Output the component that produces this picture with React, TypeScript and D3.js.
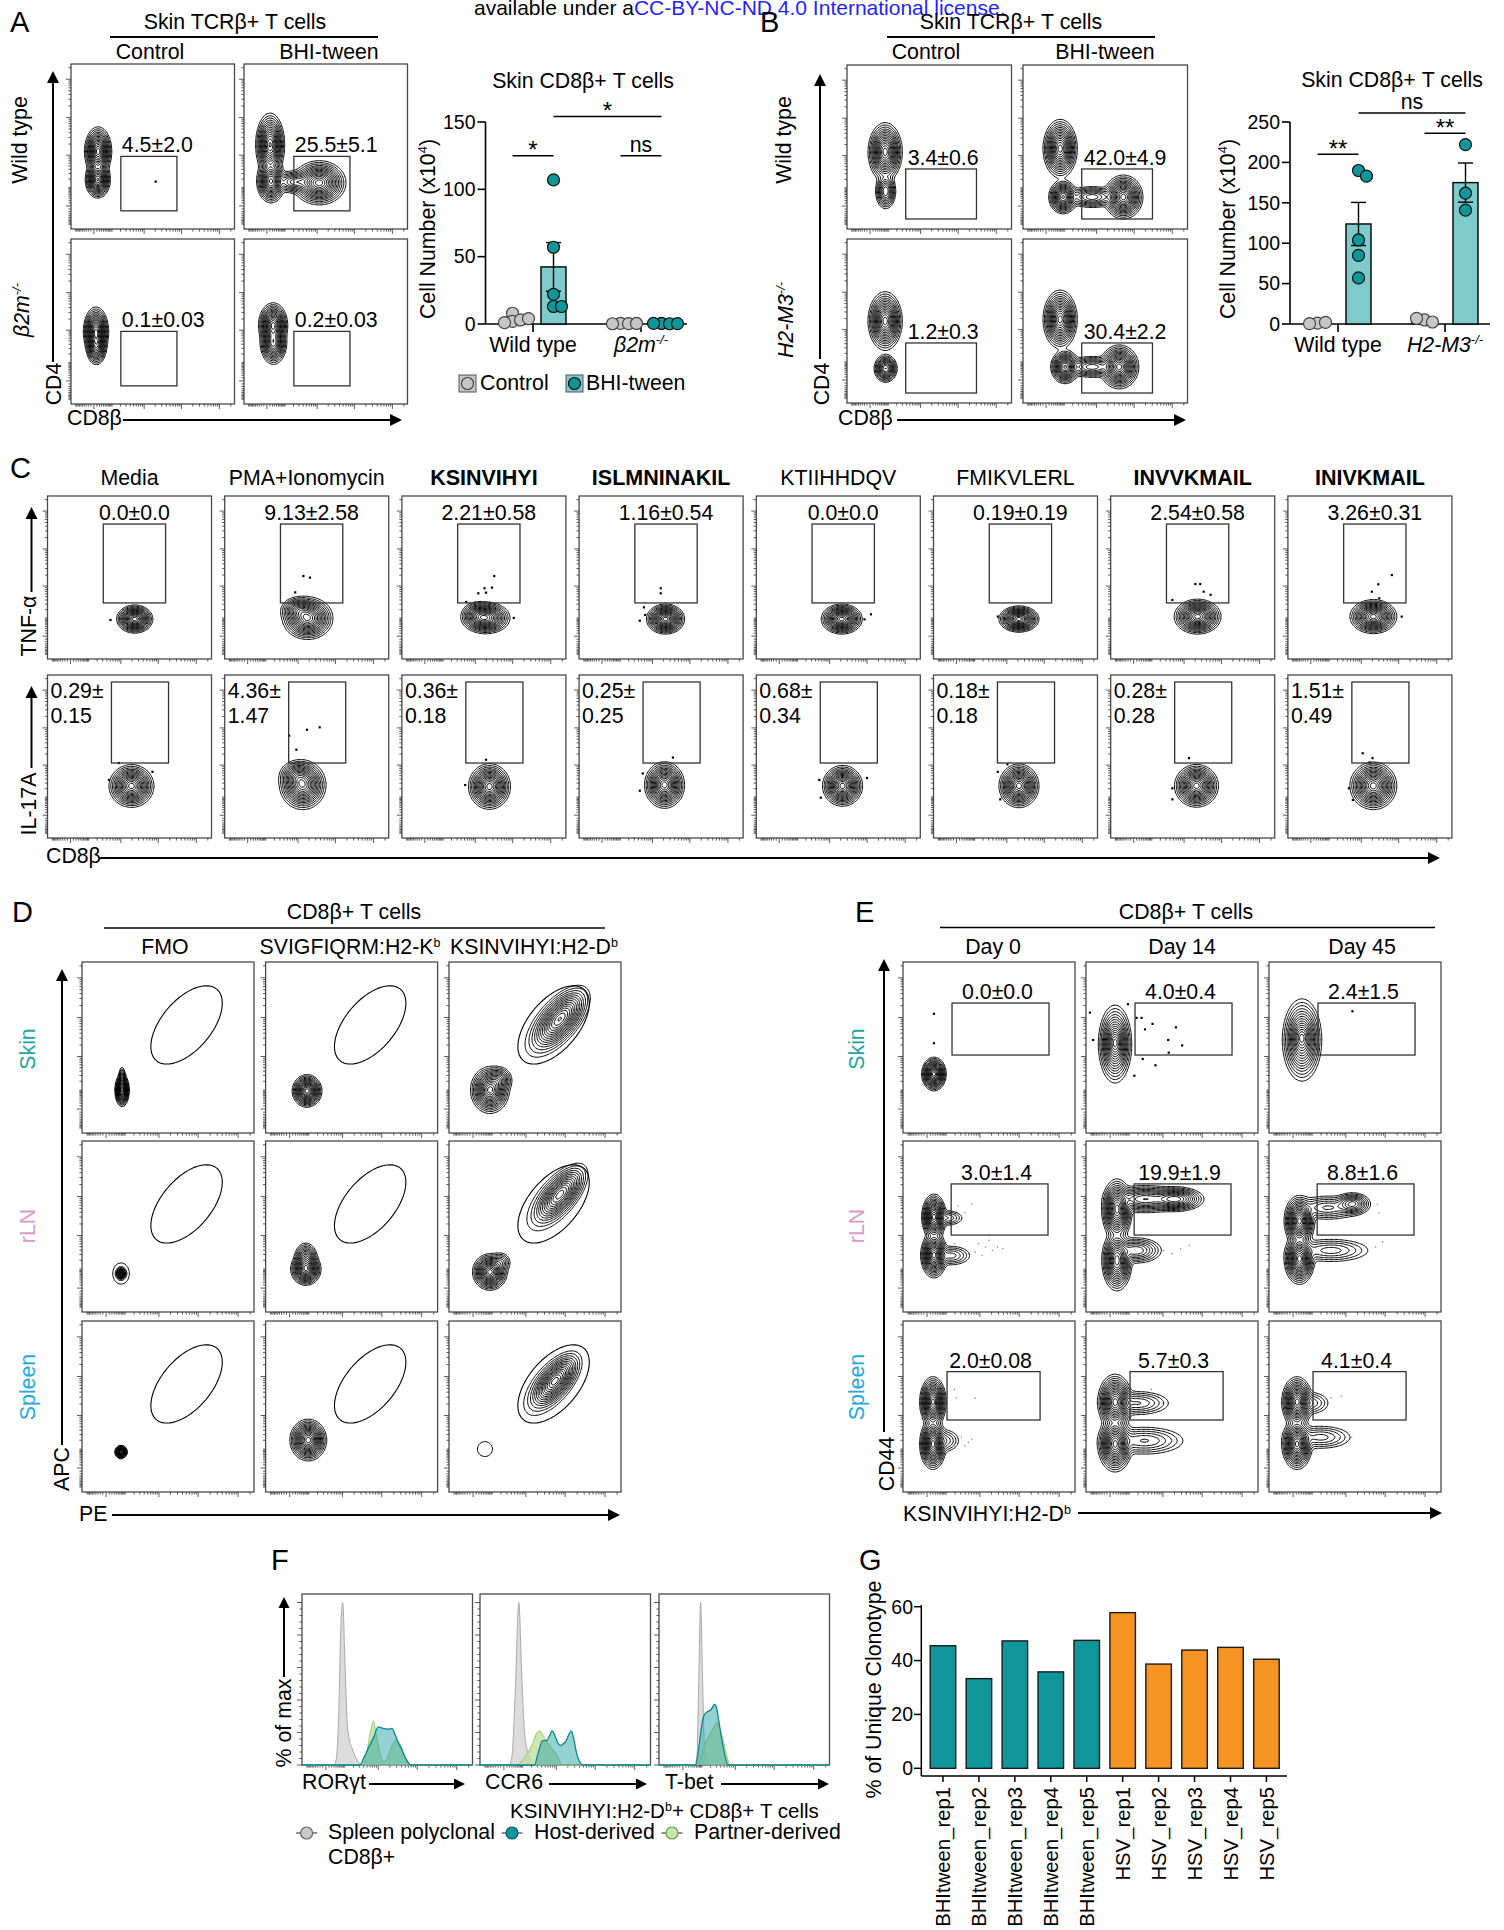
import React from "react";
import * as d3 from "d3";

const FONT = "'Liberation Sans', Arial, Helvetica, sans-serif";
const FS = 21.3;

// ================= DATA =================
const LICENSE_PREFIX = "available under a";
const LICENSE_LINK = "CC-BY-NC-ND 4.0 International license.";

// population components: [x, y, spreadA, spreadB, weight, angleDeg] in axis units 0..100
// ---- Panel A
const A_COLS = ["Control", "BHI-tween"];
const A_GATE_LABELS = [["4.5±2.0", "25.5±5.1"], ["0.1±0.03", "0.2±0.03"]];
const A_GATE = [30.5, 64.8, 11, 44];
const A_POPS = [
  [
    [[16.6, 47, 2.8, 5, 1, 0], [16.4, 30, 2.6, 3.8, 0.95, 0]],
    [[16, 51, 3, 6.5, 1, 0], [16.5, 29, 3, 4.5, 0.9, 0], [31, 28.5, 5, 2.6, 0.3, 0], [46, 28, 5.5, 4.5, 1.05, 0]],
  ],
  [
    [[15.3, 44, 2.6, 5, 1, 0], [15.5, 35, 2.2, 4, 0.6, 0]],
    [[17.8, 48, 3, 4.5, 1, 0], [18, 37, 2.8, 4.5, 0.8, 0]],
  ],
];
const A_DOTS = [[[[51.8, 28.7]], []], [[], []]];
const A_GROUPS = ["Wild type", "β2m"];
const A_CTRL = [[8, 2, 3, 1, 4], [0.5, 0.3, 0.2, 0.4]];
const A_BHI = [[107, 57, 22, 13, 13], [0.4, 0.2, 0.5, 0.3]];
const A_YTICKS = [0, 50, 100, 150];
const A_SIG = [
  { g1: 0, s1: 0, g2: 0, s2: 1, y: 125, label: "*" },
  { g1: 1, s1: 0, g2: 1, s2: 1, y: 125, label: "ns" },
  { g1: 0, s1: 1, g2: 1, s2: 1, y: 154, label: "*" },
];

// ---- Panel B
const B_GATE_LABELS = [["3.4±0.6", "42.0±4.9"], ["1.2±0.3", "30.4±2.2"]];
const B_GATE = [35.7, 78.7, 6.1, 36.6];
const B_POPS = [
  [
    [[23.2, 47, 3.5, 6, 1, 0], [23.5, 23, 2.3, 4, 0.4, 0]],
    [[22.6, 49, 3.5, 6, 1, 0], [24.4, 19.5, 3, 3.5, 0.85, 0], [42, 19.5, 6, 2.5, 0.3, 0], [61, 19.5, 4, 4.5, 1, 0]],
  ],
  [
    [[23.2, 50, 3.5, 6, 1, 0], [23.5, 21, 2.5, 3, 0.6, 0]],
    [[22.6, 51, 3.5, 6, 1, 0], [25.6, 22, 3, 3.5, 0.85, 0], [42, 22, 6, 2.5, 0.3, 0], [58.5, 22, 4, 4.5, 1, 0]],
  ],
];
const B_GROUPS = ["Wild type", "H2-M3"];
const B_CTRL = [[1, 2, 0.5], [5, 2.5, 7]];
const B_BHI = [[190, 183, 104, 85, 57], [222, 162, 141]];
const B_YTICKS = [0, 50, 100, 150, 200, 250];
const B_SIG = [
  { g1: 0, s1: 0, g2: 0, s2: 1, y: 210, label: "**" },
  { g1: 1, s1: 0, g2: 1, s2: 1, y: 236, label: "**" },
  { g1: 0, s1: 1, g2: 1, s2: 1, y: 261, label: "ns" },
];

// ---- Panel C
const C_TITLES = ["Media", "PMA+Ionomycin", "KSINVIHYI", "ISLMNINAKIL", "KTIIHHDQV", "FMIKVLERL", "INVVKMAIL", "INIVKMAIL"];
const C_BOLD = [false, false, true, true, false, false, true, true];
const C_TNF = ["0.0±0.0", "9.13±2.58", "2.21±0.58", "1.16±0.54", "0.0±0.0", "0.19±0.19", "2.54±0.58", "3.26±0.31"];
const C_IL17 = [["0.29±", "0.15"], ["4.36±", "1.47"], ["0.36±", "0.18"], ["0.25±", "0.25"], ["0.68±", "0.34"], ["0.18±", "0.18"], ["0.28±", "0.28"], ["1.51±", "0.49"]];
const C_TNF_GATE = [34, 72, 34.4, 82.8];
const C_IL17_GATE = [39, 73.8, 46, 95.7];
const C_TNF_POPS = [
  [[53.2, 24.5, 3.7, 2.9, 1, 0]],
  [[50.6, 25, 5.2, 4.4, 1, 0], [45, 30, 4, 3, 0.35, 0]],
  [[51.2, 25.2, 5, 3.3, 1, 0], [46, 27, 3.5, 3, 0.3, 0]],
  [[52.7, 24.5, 3.9, 3.1, 1, 0]],
  [[52.1, 24.5, 4.2, 3.1, 1, 0]],
  [[52.1, 24.5, 4.1, 2.7, 1, 0]],
  [[53, 26, 4.8, 3.6, 1, 0]],
  [[52.1, 26, 4.8, 3.5, 1, 0]],
];
const C_IL17_POPS = [
  [[51.2, 31.9, 4.6, 4.4, 1, 0]],
  [[47.6, 32.5, 4.8, 5.1, 1, 0], [44, 38, 4, 3.5, 0.3, 0]],
  [[53.4, 31.6, 4.3, 4.7, 1, 0]],
  [[52.1, 32.5, 4.1, 4.8, 1, 0]],
  [[52.6, 32, 4.1, 4.2, 1, 0]],
  [[52.1, 32, 4.1, 4.5, 1, 0]],
  [[52.3, 32, 4.5, 4.4, 1, 0]],
  [[52.1, 32, 4.8, 4.9, 1, 0]],
];
const C_TNF_DOTS = [
  [[38.4, 23.9]],
  [[48, 50.9], [52, 49.9], [43, 40.9]],
  [[56.3, 50.9], [50.4, 43.4], [54.9, 43.8], [46.6, 40.3], [51.3, 40.7], [39.2, 35], [68.2, 25.2]],
  [[49.8, 43.4], [49.8, 40.3], [39.5, 31.7], [37, 23.5], [40.3, 27]],
  [[69.9, 27.4], [66, 24.3]],
  [[39.2, 26]],
  [[51.6, 46], [54.6, 46], [56.7, 41.3], [60.9, 39.4], [37.6, 36.2]],
  [[63.4, 51.5], [55.1, 45.8], [51.2, 41.3], [55.7, 37.2], [69.4, 26]],
];
const C_IL17_DOTS = [
  [[43.5, 46], [37.5, 35.6], [64, 40.6]],
  [[50.2, 66.4], [57.9, 67.9], [39.3, 62.8], [43.7, 54.2]],
  [[51.3, 48], [38.6, 32.5]],
  [[57.2, 49.4], [38.8, 39.6], [37, 29]],
  [[38.4, 35.6], [39.3, 24.7], [67.5, 36.8]],
  [[39.2, 40.6], [45.1, 45.2], [40.7, 23.7]],
  [[47.7, 49], [37.6, 30.5], [37.6, 23.7]],
  [[45.6, 52], [51.6, 49], [49.8, 46.4], [37.2, 30.5], [39.6, 23.3]],
];

// ---- Panel D
const D_COLS = ["FMO", "SVIGFIQRM:H2-K", "KSINVIHYI:H2-D"];
const D_COL_SUP = ["", "b", "b"];
const ROW_LABELS = ["Skin", "rLN", "Spleen"];
const ROW_COLORS = ["#1ea3a5", "#d59ccd", "#23a8de"];
const D_GATE = [60.8, 63.2, 27.3, 14.5, 50];
const D_POPS = [
  [
    [[23.3, 25, 1.4, 3.2, 1, 0], [23.3, 31, 0.8, 3, 0.25, 0]],
    [[24.1, 24.6, 2.9, 3.2, 1, 0]],
    [[23.8, 25.1, 3.8, 4.6, 1, 0], [29, 31, 3, 3, 0.25, 0], [64.5, 66.7, 8, 3.8, 0.9, 50], [60, 62, 11, 5.5, 0.06, 50]],
  ],
  [
    [[22.7, 22.5, 1.0, 1.2, 1, 0], [22.7, 22.5, 3.5, 4.5, 0.03, 0]],
    [[23.4, 25, 3, 3.2, 1, 0], [23.4, 31, 2.5, 3.5, 0.45, 0]],
    [[23.8, 23.4, 3.4, 3.6, 1, 0], [30, 29, 2.5, 2.5, 0.12, 45], [64.5, 68.7, 7.5, 3.4, 0.85, 50], [60, 64, 11, 5.5, 0.05, 50]],
  ],
  [
    [[22.7, 23.4, 1.2, 1.3, 1, 0]],
    [[24.8, 30.4, 3.6, 4.1, 1, 0]],
    [[20.9, 25.1, 4.5, 4.5, 0.02, 0], [61.6, 64.9, 7, 3.3, 1, 50], [58, 61, 11, 5.5, 0.05, 50]],
  ],
];

// ---- Panel E
const E_COLS = ["Day 0", "Day 14", "Day 45"];
const E_GATES = [[28.5, 84.9, 45.6, 76], [28, 84.3, 45, 74.9], [25.6, 79.7, 42.1, 70.4]];
const E_GATE_LABELS = [["0.0±0.0", "4.0±0.4", "2.4±1.5"], ["3.0±1.4", "19.9±1.9", "8.8±1.6"], ["2.0±0.08", "5.7±0.3", "4.1±0.4"]];
const E_POPS = [
  [
    [[18, 34.5, 2.4, 3.3, 1, 0]],
    [[16.9, 52, 3.4, 8, 1, 0], [17, 53, 2.4, 4, 0.45, 0]],
    [[19.2, 54.4, 4, 8.4, 1, 0], [19, 56, 2.6, 4, 0.4, 0]],
  ],
  [
    [[18, 55.6, 2.4, 4.5, 1, 0], [18, 33.3, 2.6, 4.5, 1, 0], [28, 33, 5, 2.5, 0.12, 0], [26, 55, 4, 2, 0.1, 0]],
    [[18, 60, 3, 6, 1, 0], [18, 30, 3, 6, 0.9, 0], [34, 66, 8, 3, 0.4, 0], [52, 66, 6, 2.6, 0.55, 0], [29, 36, 6, 3, 0.25, 0]],
    [[17.7, 53.2, 3, 5, 1, 0], [17.7, 31, 3, 5, 1, 0], [34, 61, 8, 3, 0.15, 0], [48.5, 63.2, 4, 2.5, 0.35, 0], [36, 36, 10, 3, 0.12, 0]],
  ],
  [
    [[17.4, 52.6, 2.6, 5, 1, 0], [17.4, 28, 2.6, 5, 1, 0], [24, 30, 4, 3, 0.1, 0]],
    [[16.9, 52.6, 3.4, 5.5, 1, 0], [16.9, 28, 3.4, 5.5, 1, 0], [30, 52, 8, 3, 0.15, 0], [34, 30, 10, 3.5, 0.15, 0]],
    [[16.3, 52.6, 3, 5, 1, 0], [16.3, 28, 3, 5, 1, 0], [24, 52, 5, 3, 0.1, 0], [30, 32, 8, 3, 0.12, 0]],
  ],
];
const E_DOTS = [
  [
    [[18, 69.7], [18, 52.5]],
    [[29.4, 67.3], [32.3, 67.3], [38.7, 63.8], [34.3, 60.6], [52.3, 61.8], [47.8, 54.4], [55.9, 51.2], [4.2, 54.4], [33, 43.3], [40.4, 39.6], [28.1, 33.5], [48.1, 47], [24.4, 75.3], [2.3, 70.4]],
    [[48.5, 71.2]],
  ],
  [[], [], []],
  [[], [], []],
];
const E_DUST = [
  [[], [], []],
  [
    [[32, 62], [36, 58], [40, 63], [34, 56], [44, 40], [48, 38], [52, 36], [46, 33], [42, 35], [55, 38], [38, 34], [50, 42], [58, 37], [30, 40]],
    [[45, 36], [50, 34], [55, 37], [60, 39]],
    [[63, 63], [64, 58], [62, 38], [66, 41]],
  ],
  [
    [[30, 60], [31, 55], [42, 55], [34, 32], [38, 29], [40, 31], [36, 27]],
    [[38, 60], [42, 56], [44, 34], [50, 30], [48, 28], [52, 32]],
    [[36, 55], [42, 56], [45, 30], [48, 32], [40, 29]],
  ],
];

// ---- Panel F (histograms, % of max vs. fluorescence units)
const F_CHANNELS = ["RORγt", "CCR6", "T-bet"];
const F_GRAY = [
  [[18.5, 0], [20, 3], [21.5, 30], [22.8, 85], [23.9, 100], [25, 70], [26.3, 30], [27.5, 17], [29.5, 10], [31.3, 5], [33.5, 1.5], [36, 0]],
  [[17, 0], [18.7, 5], [20.5, 40], [22.8, 100], [24.3, 60], [25.8, 25], [27.5, 10], [29.5, 4], [32, 0]],
  [[21, 0], [22.2, 5], [23.3, 50], [24.4, 100], [25.5, 55], [26.5, 15], [27.5, 5], [29, 1], [30, 0]],
];
const F_PARTNER = [
  [[36, 0], [38, 8], [40.5, 22], [41.9, 27], [43.3, 20], [45.5, 8], [48, 2], [50, 4], [52.5, 11], [55, 15], [57.5, 11], [60, 5], [62.8, 0]],
  [[22, 0], [25, 3], [27.8, 7], [30.5, 12], [33, 19], [34.9, 21], [37, 18], [39, 15], [41.5, 11], [44.5, 7], [46.5, 3], [48, 0]],
  [[22.7, 0], [24.5, 5], [26.9, 13], [29.5, 18], [32, 23], [33.9, 26.6], [35.5, 23], [37.2, 17], [39.5, 7], [41.5, 0]],
];
const F_HOST = [
  [[34, 0], [36.5, 5], [39.2, 11], [42, 17], [44.7, 23.5], [47.5, 22.5], [50.5, 22], [52.7, 22.5], [54.5, 19], [56, 15], [58, 11], [59.6, 7], [62, 2], [64, 0]],
  [[32, 0], [34, 7], [36.7, 15], [39, 15], [40.8, 18], [42.3, 21], [44, 18], [45.5, 14], [47.2, 12], [48.7, 13], [50, 14], [52, 18.5], [53.5, 21], [55, 16], [56.7, 7], [58.5, 2], [60, 0]],
  [[21.5, 0], [23, 8], [24.5, 20], [26, 29.6], [28.2, 32.7], [30.5, 34], [32.7, 37.4], [34, 34], [35, 27.6], [36.8, 16], [38.4, 7], [40.6, 0]],
];
const F_LEGEND = ["Spleen polyclonal", "Host-derived", "Partner-derived"];

// ---- Panel G
const G_CATS = ["BHItween_rep1", "BHItween_rep2", "BHItween_rep3", "BHItween_rep4", "BHItween_rep5", "HSV_rep1", "HSV_rep2", "HSV_rep3", "HSV_rep4", "HSV_rep5"];
const G_VALUES = [45.5, 33.3, 47.3, 35.8, 47.5, 57.8, 38.7, 43.9, 44.9, 40.5];
const G_GROUP = ["BHItween", "BHItween", "BHItween", "BHItween", "BHItween", "HSV", "HSV", "HSV", "HSV", "HSV"];
const G_YTICKS = [0, 20, 40, 60];

// ================= HELPERS =================
const LEVELS = [0.012, 0.024, 0.042, 0.068, 0.1, 0.14, 0.19, 0.25, 0.32, 0.4, 0.49, 0.59, 0.7, 0.82, 0.93];
const TEAL = "#0f969b";
const TEAL_LIGHT = "#7fcaca";
const GRAY_PT = "#c6c6c6";

const biex = d3.scaleSymlog().constant(50).domain([-150, 250000]).range([0, 1]);
const BIEX_TICKS = (() => {
  const t: { v: number; major: boolean }[] = [{ v: 0, major: true }];
  for (let k = 1; k <= 5; k++) {
    for (let m = 1; m <= 9; m++) {
      const v = m * Math.pow(10, k);
      if (v <= 250000) t.push({ v, major: m === 1 && k >= 3 });
      if (-v >= -150) t.push({ v: -v, major: false });
    }
  }
  return t;
})();

function densityContours(comps: number[][], w: number, h: number) {
  const cell = 1.25;
  const nx = Math.ceil(w / cell), ny = Math.ceil(h / cell);
  const vals = new Array(nx * ny);
  const pre = comps.map(([cx, cy, sa, sb, wt, ang]) => {
    const t = ((ang || 0) * Math.PI) / 180;
    return [cx, cy, 1 / (sa * sa), 1 / (sb * sb), wt, Math.cos(t), Math.sin(t)];
  });
  let mx = 0;
  for (let j = 0; j < ny; j++) {
    const dy = 100 - (((j + 0.5) * cell) / h) * 100;
    for (let i = 0; i < nx; i++) {
      const dx = (((i + 0.5) * cell) / w) * 100;
      let s = 0;
      for (const [cx, cy, ia, ib, wt, c, sn] of pre) {
        const ux = dx - cx, uy = dy - cy;
        const u = ux * c + uy * sn;
        const v = -ux * sn + uy * c;
        s += wt * Math.exp(-0.5 * (u * u * ia + v * v * ib));
      }
      vals[j * nx + i] = s;
      if (s > mx) mx = s;
    }
  }
  const cs = d3.contours().size([nx, ny]).thresholds(LEVELS.map((l) => l * mx))(vals);
  const path = d3.geoPath(d3.geoIdentity().scale(cell) as any);
  return cs.map((c) => path(c as any) || "");
}

function ellipsePath(g: number[], sx: any, sy: any) {
  const [cx, cy, a, b, ang] = g;
  const t = (ang * Math.PI) / 180;
  const pts = d3.range(0, 361, 5).map((d) => {
    const r = (d * Math.PI) / 180;
    const u = a * Math.cos(r), v = b * Math.sin(r);
    return [sx(cx + u * Math.cos(t) - v * Math.sin(t)), sy(cy + u * Math.sin(t) + v * Math.cos(t))] as [number, number];
  });
  return (d3.line()(pts) || "") + "Z";
}

function FlowTicks({ x, y, w, h, left = true }: any) {
  const segs: string[] = [];
  for (const t of BIEX_TICKS) {
    const f = biex(t.v);
    const len = t.major ? 5 : 2.6;
    segs.push(`M${x + f * w},${y + h}v${len}`);
    if (left) segs.push(`M${x},${y + h - f * h}h${-len}`);
  }
  return <path d={segs.join("")} stroke="#333" strokeWidth={0.8} fill="none" />;
}

function FlowBox({ x, y, w, h, comps, dots = [], dust = [], rect, ellipse }: any) {
  const sx = d3.scaleLinear([0, 100], [x, x + w]);
  const sy = d3.scaleLinear([0, 100], [y + h, y]);
  const paths = densityContours(comps, w, h);
  return (
    <g>
      <rect x={x} y={y} width={w} height={h} fill="#fff" stroke="#4a4a4a" strokeWidth={1.3} />
      <FlowTicks x={x} y={y} w={w} h={h} />
      <g transform={`translate(${x},${y})`}>
        {paths.map((d, i) => (
          <path key={i} d={d} fill="none" stroke="#000" strokeWidth={1} />
        ))}
      </g>
      {dust.map((p: number[], i: number) => (
        <circle key={"u" + i} cx={sx(p[0])} cy={sy(p[1])} r={0.8} fill="#8a8a8a" />
      ))}
      {dots.map((p: number[], i: number) => (
        <rect key={"d" + i} x={sx(p[0]) - 1.1} y={sy(p[1]) - 1.1} width={2.2} height={2.2} fill="#000" />
      ))}
      {rect && (
        <rect x={sx(rect[0])} y={sy(rect[3])} width={sx(rect[1]) - sx(rect[0])} height={sy(rect[2]) - sy(rect[3])} fill="none" stroke="#333" strokeWidth={1.3} />
      )}
      {ellipse && <path d={ellipsePath(ellipse, sx, sy)} fill="none" stroke="#000" strokeWidth={1.1} />}
    </g>
  );
}

function Arrow({ x1, y1, x2, y2, head = 12, hw = 6, sw = 2 }: any) {
  const a = Math.atan2(y2 - y1, x2 - x1);
  const bx = x2 - head * Math.cos(a), by = y2 - head * Math.sin(a);
  const px = -Math.sin(a) * hw, py = Math.cos(a) * hw;
  return (
    <g>
      <line x1={x1} y1={y1} x2={bx + Math.cos(a)} y2={by + Math.sin(a)} stroke="#000" strokeWidth={sw} />
      <path d={`M${x2},${y2}L${bx + px},${by + py}L${bx - px},${by - py}Z`} fill="#000" />
    </g>
  );
}

function RText({ x, y, size = FS, children, ...rest }: any) {
  return (
    <text transform={`translate(${x},${y}) rotate(-90)`} textAnchor="middle" dy="0.35em" fontSize={size} {...rest}>
      {children}
    </text>
  );
}

function Sup({ children, size = 13, up = 8 }: any) {
  return (
    <tspan fontSize={size} dy={-up}>
      {children}
    </tspan>
  );
}

function swarmOffsets(vals: number[], y: (v: number) => number, minDist = 8, step = 4) {
  const placed: [number, number][] = [];
  return vals.map((v) => {
    const py = y(v);
    for (let k = 0; k < 60; k++) {
      const off = k === 0 ? 0 : (k % 2 === 1 ? 1 : -1) * Math.ceil(k / 2) * step;
      if (placed.every(([qx, qy]) => Math.hypot(qx - off, qy - py) >= minDist)) {
        placed.push([off, py]);
        return off;
      }
    }
    return 0;
  });
}

function BarDot({ axX, axEnd, yTop, yBot, yMax, ticks, centers, groupLabels, ctrl, bhi, sig, labelY }: any) {
  const y = d3.scaleLinear([0, yMax], [yBot, yTop]);
  const gx = d3.scalePoint(d3.range(centers.length), centers);
  const sOff = d3.scalePoint([0, 1], [-20.5, 20.5]);
  const cx = (g: number, s: number) => (gx(g) as number) + (sOff(s) as number);
  const series = [ctrl, bhi];
  return (
    <g>
      <line x1={axX} x2={axX} y1={yTop} y2={yBot} stroke="#000" strokeWidth={1.6} />
      <line x1={axX} x2={axEnd} y1={yBot} y2={yBot} stroke="#000" strokeWidth={1.6} />
      {ticks.map((t: number) => (
        <g key={t}>
          <line x1={axX - 8} x2={axX} y1={y(t)} y2={y(t)} stroke="#000" strokeWidth={1.6} />
          <text x={axX - 10} y={y(t)} dy="0.35em" textAnchor="end" fontSize={19.5}>
            {t}
          </text>
        </g>
      ))}
      {centers.map((c: number, i: number) => (
        <g key={i}>
          <line x1={c} x2={c} y1={yBot} y2={yBot + 8} stroke="#000" strokeWidth={1.6} />
          <text x={c} y={labelY} textAnchor="middle" fontSize={FS} fontStyle={i === 0 ? "normal" : "italic"}>
            {groupLabels[i]}
            {i > 0 && <Sup>-/-</Sup>}
          </text>
        </g>
      ))}
      {series.map((ser: number[][], s: number) =>
        ser.map((vals: number[], g: number) => {
          const m = d3.mean(vals) as number;
          const sem = (d3.deviation(vals) || 0) / Math.sqrt(vals.length);
          const x = cx(g, s);
          return (
            <g key={`b${s}${g}`}>
              <rect x={x - 12.5} y={y(m)} width={25} height={yBot - y(m)} fill={s === 0 ? "#c4c4c4" : TEAL_LIGHT} stroke="#000" strokeWidth={1.4} />
              <line x1={x} x2={x} y1={y(m + sem)} y2={y(Math.max(0, m - sem))} stroke="#000" strokeWidth={1.4} />
              <line x1={x - 7.5} x2={x + 7.5} y1={y(m + sem)} y2={y(m + sem)} stroke="#000" strokeWidth={1.4} />
              <line x1={x - 7.5} x2={x + 7.5} y1={y(Math.max(0, m - sem))} y2={y(Math.max(0, m - sem))} stroke="#000" strokeWidth={1.4} />
            </g>
          );
        })
      )}
      {series.map((ser: number[][], s: number) =>
        ser.map((vals: number[], g: number) => {
          const offs = swarmOffsets(vals, y);
          return vals.map((v, i) => (
            <circle key={`p${s}${g}${i}`} cx={cx(g, s) + offs[i]} cy={y(v)} r={6} fill={s === 0 ? GRAY_PT : TEAL} stroke={s === 0 ? "#444" : "#111"} strokeWidth={1.2} />
          ));
        })
      )}
      {sig.map((sg: any, i: number) => {
        const x1 = cx(sg.g1, sg.s1), x2 = cx(sg.g2, sg.s2), yy = y(sg.y);
        const star = sg.label !== "ns";
        return (
          <g key={"s" + i}>
            <line x1={x1} x2={x2} y1={yy} y2={yy} stroke="#000" strokeWidth={1.5} />
            <text x={(x1 + x2) / 2} y={star ? yy + 2.5 : yy - 4} textAnchor="middle" fontSize={star ? 24 : FS}>
              {sg.label}
            </text>
          </g>
        );
      })}
    </g>
  );
}

// ================= PANELS =================
function PanelA() {
  const cols = [71, 244], rows = [64, 239], w = 163.5, h = 165;
  return (
    <g>
      <text x={10} y={32} fontSize={29}>A</text>
      <text x={235} y={29} fontSize={FS} textAnchor="middle">Skin TCRβ+ T cells</text>
      <line x1={110} x2={378} y1={37} y2={37} stroke="#000" strokeWidth={2} />
      <text x={150} y={59} fontSize={FS} textAnchor="middle">{A_COLS[0]}</text>
      <text x={329} y={59} fontSize={FS} textAnchor="middle">{A_COLS[1]}</text>
      <RText x={20} y={140}>Wild type</RText>
      <RText x={22} y={310} fontStyle="italic">β2m<Sup>-/-</Sup></RText>
      <RText x={54} y={384}>CD4</RText>
      <Arrow x1={53} y1={362} x2={53} y2={71} />
      <text x={67} y={425} fontSize={FS}>CD8β</text>
      <Arrow x1={123} y1={420} x2={402} y2={420} />
      {rows.map((ry, r) =>
        cols.map((cxp, c) => {
          const sx = d3.scaleLinear([0, 100], [cxp, cxp + w]);
          const sy = d3.scaleLinear([0, 100], [ry + h, ry]);
          return (
            <g key={`${r}${c}`}>
              <FlowBox x={cxp} y={ry} w={w} h={h} comps={A_POPS[r][c]} dots={A_DOTS[r][c]} rect={A_GATE} />
              <text x={sx(A_GATE[0]) + 1} y={sy(A_GATE[3]) - 4} fontSize={FS}>{A_GATE_LABELS[r][c]}</text>
            </g>
          );
        })
      )}
      <text x={583} y={88} fontSize={FS} textAnchor="middle">Skin CD8β+ T cells</text>
      <RText x={428} y={229}>Cell Number (x10<Sup>4</Sup><tspan dy={8}>)</tspan></RText>
      <BarDot axX={485.5} axEnd={687} yTop={122} yBot={324} yMax={150} ticks={A_YTICKS} centers={[533, 641]} groupLabels={A_GROUPS} ctrl={A_CTRL} bhi={A_BHI} sig={A_SIG} labelY={352} />
      <rect x={459} y={375} width={17} height={17} fill="#c4c4c4" stroke="#555" strokeWidth={1} />
      <circle cx={467.5} cy={383.5} r={6} fill={GRAY_PT} stroke="#444" strokeWidth={1.2} />
      <text x={480} y={390} fontSize={FS}>Control</text>
      <rect x={566} y={375} width={17} height={17} fill={TEAL_LIGHT} stroke="#555" strokeWidth={1} />
      <circle cx={574.5} cy={383.5} r={6} fill={TEAL} stroke="#111" strokeWidth={1.2} />
      <text x={586} y={390} fontSize={FS}>BHI-tween</text>
    </g>
  );
}

function PanelB() {
  const cols = [847, 1023], rows = [65, 239], w = 164.5, h = 164;
  return (
    <g>
      <text x={760} y={32} fontSize={29}>B</text>
      <text x={1011} y={29} fontSize={FS} textAnchor="middle">Skin TCRβ+ T cells</text>
      <line x1={887} x2={1155} y1={37} y2={37} stroke="#000" strokeWidth={2} />
      <text x={926} y={59} fontSize={FS} textAnchor="middle">{A_COLS[0]}</text>
      <text x={1105} y={59} fontSize={FS} textAnchor="middle">{A_COLS[1]}</text>
      <RText x={784} y={140}>Wild type</RText>
      <RText x={786} y={320} fontStyle="italic">H2-M3<Sup>-/-</Sup></RText>
      <RText x={822} y={384}>CD4</RText>
      <Arrow x1={820} y1={359} x2={820} y2={74} />
      <text x={838} y={425} fontSize={FS}>CD8β</text>
      <Arrow x1={897} y1={420} x2={1186} y2={420} />
      {rows.map((ry, r) =>
        cols.map((cxp, c) => {
          const sx = d3.scaleLinear([0, 100], [cxp, cxp + w]);
          const sy = d3.scaleLinear([0, 100], [ry + h, ry]);
          return (
            <g key={`${r}${c}`}>
              <FlowBox x={cxp} y={ry} w={w} h={h} comps={B_POPS[r][c]} rect={B_GATE} />
              <text x={sx(B_GATE[0]) + 2} y={sy(B_GATE[3]) - 4} fontSize={FS}>{B_GATE_LABELS[r][c]}</text>
            </g>
          );
        })
      )}
      <text x={1392} y={87} fontSize={FS} textAnchor="middle">Skin CD8β+ T cells</text>
      <RText x={1228} y={229}>Cell Number (x10<Sup>4</Sup><tspan dy={8}>)</tspan></RText>
      <BarDot axX={1290} axEnd={1490} yTop={122} yBot={324} yMax={250} ticks={B_YTICKS} centers={[1338, 1445]} groupLabels={B_GROUPS} ctrl={B_CTRL} bhi={B_BHI} sig={B_SIG} labelY={352} />
    </g>
  );
}

function PanelC() {
  const left = (i: number) => 47.5 + i * 177.2;
  const w = 164, rows = [496, 675], h = 163;
  return (
    <g>
      <text x={10} y={478} fontSize={29}>C</text>
      {C_TITLES.map((t, i) => (
        <text key={t} x={left(i) + w / 2} y={485} fontSize={C_BOLD[i] ? 21.5 : FS} textAnchor="middle" fontWeight={C_BOLD[i] ? "bold" : "normal"}>
          {t}
        </text>
      ))}
      {C_TITLES.map((t, i) => {
        const x = left(i);
        const sxx = d3.scaleLinear([0, 100], [x, x + w]);
        const syT = d3.scaleLinear([0, 100], [rows[0] + h, rows[0]]);
        return (
          <g key={"c" + i}>
            <FlowBox x={x} y={rows[0]} w={w} h={h} comps={C_TNF_POPS[i]} dots={C_TNF_DOTS[i]} rect={C_TNF_GATE} />
            <text x={sxx((C_TNF_GATE[0] + C_TNF_GATE[1]) / 2)} y={syT(C_TNF_GATE[3]) - 4} fontSize={FS} textAnchor="middle">
              {C_TNF[i]}
            </text>
            <FlowBox x={x} y={rows[1]} w={w} h={h} comps={C_IL17_POPS[i]} dots={C_IL17_DOTS[i]} rect={C_IL17_GATE} />
            <text x={x + 3} y={698} fontSize={FS}>{C_IL17[i][0]}</text>
            <text x={x + 3} y={723} fontSize={FS}>{C_IL17[i][1]}</text>
          </g>
        );
      })}
      <RText x={29} y={626}>TNF-α</RText>
      <Arrow x1={31.5} y1={592} x2={31.5} y2={507} />
      <RText x={29} y={804}>IL-17A</RText>
      <Arrow x1={31.5} y1={768} x2={31.5} y2={686} />
      <text x={46} y={863} fontSize={FS}>CD8β</text>
      <Arrow x1={100} y1={858} x2={1440} y2={858} />
    </g>
  );
}

function PanelD() {
  const cols = [82, 265.6, 449], rows = [962, 1141, 1321], w = 172, h = 171;
  const colCenters = [165, 350, 534];
  const labelY = [1049, 1226, 1387];
  return (
    <g>
      <text x={12} y={922} fontSize={29}>D</text>
      <text x={354} y={919} fontSize={FS} textAnchor="middle">CD8β+ T cells</text>
      <line x1={104} x2={605} y1={928} y2={928} stroke="#000" strokeWidth={1.3} />
      {D_COLS.map((t, i) => (
        <text key={t} x={colCenters[i]} y={954} fontSize={FS} textAnchor="middle">
          {t}
          {D_COL_SUP[i] && <Sup size={12.5} up={7}>{D_COL_SUP[i]}</Sup>}
        </text>
      ))}
      {ROW_LABELS.map((t, i) => (
        <RText key={t} x={27.5} y={labelY[i]} fill={ROW_COLORS[i]}>{t}</RText>
      ))}
      {rows.map((ry, r) =>
        cols.map((cxp, c) => <FlowBox key={`${r}${c}`} x={cxp} y={ry} w={w} h={h} comps={D_POPS[r][c]} ellipse={D_GATE} />)
      )}
      <RText x={61.5} y={1469}>APC</RText>
      <Arrow x1={62} y1={1445} x2={62} y2={969} />
      <text x={79} y={1521} fontSize={FS}>PE</text>
      <Arrow x1={112} y1={1515} x2={620} y2={1515} />
    </g>
  );
}

function PanelE() {
  const cols = [903, 1086, 1269], rows = [962, 1141, 1321], w = 172, h = 171;
  const colCenters = [993, 1182, 1362];
  const labelY = [1049, 1226, 1387];
  return (
    <g>
      <text x={855} y={922} fontSize={29}>E</text>
      <text x={1186} y={919} fontSize={FS} textAnchor="middle">CD8β+ T cells</text>
      <line x1={940} x2={1435} y1={927.5} y2={927.5} stroke="#000" strokeWidth={1.3} />
      {E_COLS.map((t, i) => (
        <text key={t} x={colCenters[i]} y={954} fontSize={FS} textAnchor="middle">{t}</text>
      ))}
      {ROW_LABELS.map((t, i) => (
        <RText key={t} x={857} y={labelY[i]} fill={ROW_COLORS[i]}>{t}</RText>
      ))}
      {rows.map((ry, r) =>
        cols.map((cxp, c) => {
          const g = E_GATES[r];
          const sx = d3.scaleLinear([0, 100], [cxp, cxp + w]);
          const sy = d3.scaleLinear([0, 100], [ry + h, ry]);
          return (
            <g key={`${r}${c}`}>
              <FlowBox x={cxp} y={ry} w={w} h={h} comps={E_POPS[r][c]} dots={E_DOTS[r][c]} dust={E_DUST[r][c]} rect={g} />
              <text x={sx((g[0] + g[1]) / 2) - 3} y={sy(g[3]) - 4} fontSize={FS} textAnchor="middle">{E_GATE_LABELS[r][c]}</text>
            </g>
          );
        })
      )}
      <RText x={886.5} y={1464}>CD44</RText>
      <Arrow x1={884} y1={1432} x2={884} y2={959} />
      <text x={903} y={1521} fontSize={FS}>
        KSINVIHYI:H2-D<Sup size={12.5} up={7}>b</Sup>
      </text>
      <Arrow x1={1078} y1={1513} x2={1442} y2={1513} />
    </g>
  );
}

function PanelF() {
  const lefts = [302, 480, 659], w = 170.5, top = 1594, h = 171;
  const sy = d3.scaleLinear([0, 100], [1765, 1602.5]);
  const labelX = [[302, 369, 465], [485, 549, 647], [665, 721, 829]];
  return (
    <g>
      <text x={271} y={1570} fontSize={29}>F</text>
      {lefts.map((x, i) => {
        const sx = d3.scaleLinear([0, 100], [x, x + w]);
        const area = d3
          .area<number[]>()
          .x((d) => sx(d[0]))
          .y0(sy(0))
          .y1((d) => sy(d[1]))
          .curve(d3.curveMonotoneX);
        const line = d3
          .line<number[]>()
          .x((d) => sx(d[0]))
          .y((d) => sy(d[1]))
          .curve(d3.curveMonotoneX);
        const wrap = (a: number[][]) => [[0, 0], ...a, [100, 0]];
        const lt: string[] = [];
        for (let p = 0; p <= 100; p += 4) lt.push(`M${x},${sy(p)}h${p % 20 === 0 ? -5 : -2.6}`);
        return (
          <g key={i}>
            <rect x={x} y={top} width={w} height={h} fill="#fff" stroke="#4a4a4a" strokeWidth={1.3} />
            <path d={lt.join("")} stroke="#333" strokeWidth={0.8} />
            <FlowTicks x={x} y={top} w={w} h={h} left={false} />
            <path d={area(wrap(F_GRAY[i])) || ""} fill="#d6d6d6" fillOpacity={0.85} />
            <path d={line(wrap(F_GRAY[i])) || ""} fill="none" stroke="#a9a9a9" strokeWidth={1} />
            <path d={area(wrap(F_PARTNER[i])) || ""} fill="#c2e0a0" fillOpacity={0.8} />
            <path d={line(wrap(F_PARTNER[i])) || ""} fill="none" stroke="#a3cf78" strokeWidth={1.1} />
            <path d={area(wrap(F_HOST[i])) || ""} fill="#2aa3a6" fillOpacity={0.5} />
            <path d={line(wrap(F_HOST[i])) || ""} fill="none" stroke="#0d878b" strokeWidth={1.3} />
            <text x={labelX[i][0]} y={1789} fontSize={FS}>{F_CHANNELS[i]}</text>
            <Arrow x1={labelX[i][1]} y1={1784} x2={labelX[i][2]} y2={1784} head={11} hw={5.5} />
          </g>
        );
      })}
      <RText x={283.5} y={1723}>% of max</RText>
      <Arrow x1={284} y1={1677} x2={284} y2={1597} head={11} hw={5.5} />
      <text x={510} y={1818} fontSize={20.5}>
        KSINVIHYI:H2-D<Sup size={12.5} up={7}>b</Sup>
        <tspan dy={7}>+ CD8β+ T cells</tspan>
      </text>
      {[
        [306.6, "#c8c8c8", "#666", 328],
        [512, TEAL, "#0a5a5c", 534],
        [672, "#c8e4a6", "#6f9a4e", 694],
      ].map(([cx, fill, stroke, tx]: any, i) => (
        <g key={i}>
          <line x1={cx - 10.5} x2={cx + 10.5} y1={1833} y2={1833} stroke="#555" strokeWidth={1.3} />
          <circle cx={cx} cy={1833} r={6} fill={fill} stroke={stroke} strokeWidth={1.2} />
          <text x={tx} y={1839} fontSize={FS}>{F_LEGEND[i]}</text>
        </g>
      ))}
      <text x={328} y={1864} fontSize={FS}>CD8β+</text>
    </g>
  );
}

function PanelG() {
  const x = d3.scaleBand(G_CATS, [925, 1284.4]).paddingInner(0.29).paddingOuter(0.145);
  const y = d3.scaleLinear([0, 60], [1768.3, 1606.7]);
  const color = d3.scaleOrdinal(["BHItween", "HSV"], [TEAL, "#f59423"]);
  return (
    <g>
      <text x={859} y={1570} fontSize={29}>G</text>
      <RText x={873.5} y={1689.5}>% of Unique Clonotype</RText>
      <line x1={921.3} x2={921.3} y1={1605} y2={1776} stroke="#000" strokeWidth={1.5} />
      <line x1={921.3} x2={1287} y1={1776} y2={1776} stroke="#000" strokeWidth={1.5} />
      {G_YTICKS.map((t) => (
        <g key={t}>
          <line x1={914} x2={921.3} y1={y(t)} y2={y(t)} stroke="#000" strokeWidth={1.5} />
          <text x={913} y={y(t)} dy="0.35em" textAnchor="end" fontSize={19.5}>{t}</text>
        </g>
      ))}
      {G_CATS.map((c, i) => {
        const bx = x(c) as number;
        const cx = bx + x.bandwidth() / 2;
        return (
          <g key={c}>
            <rect x={bx} y={y(G_VALUES[i])} width={x.bandwidth()} height={y(0) - y(G_VALUES[i])} fill={color(G_GROUP[i]) as string} stroke="#1a1a1a" strokeWidth={1.4} />
            <line x1={cx} x2={cx} y1={1776} y2={1782} stroke="#000" strokeWidth={1.5} />
            <text transform={`translate(${cx},1787) rotate(-90)`} textAnchor="end" dy="0.35em" fontSize={20.3}>
              {c}
            </text>
          </g>
        );
      })}
    </g>
  );
}

export default function App() {
  return (
    <svg width={1504} height={1930} viewBox="0 0 1504 1930" style={{ position: "absolute", left: 0, top: 0, background: "#fff" }} fontFamily={FONT}>
      <rect width={1504} height={1930} fill="#fff" />
      <text x={474} y={15} fontSize={21}>
        {LICENSE_PREFIX}
        <tspan fill="#1f1fff">{LICENSE_LINK}</tspan>
      </text>
      <PanelA />
      <PanelB />
      <PanelC />
      <PanelD />
      <PanelE />
      <PanelF />
      <PanelG />
    </svg>
  );
}
